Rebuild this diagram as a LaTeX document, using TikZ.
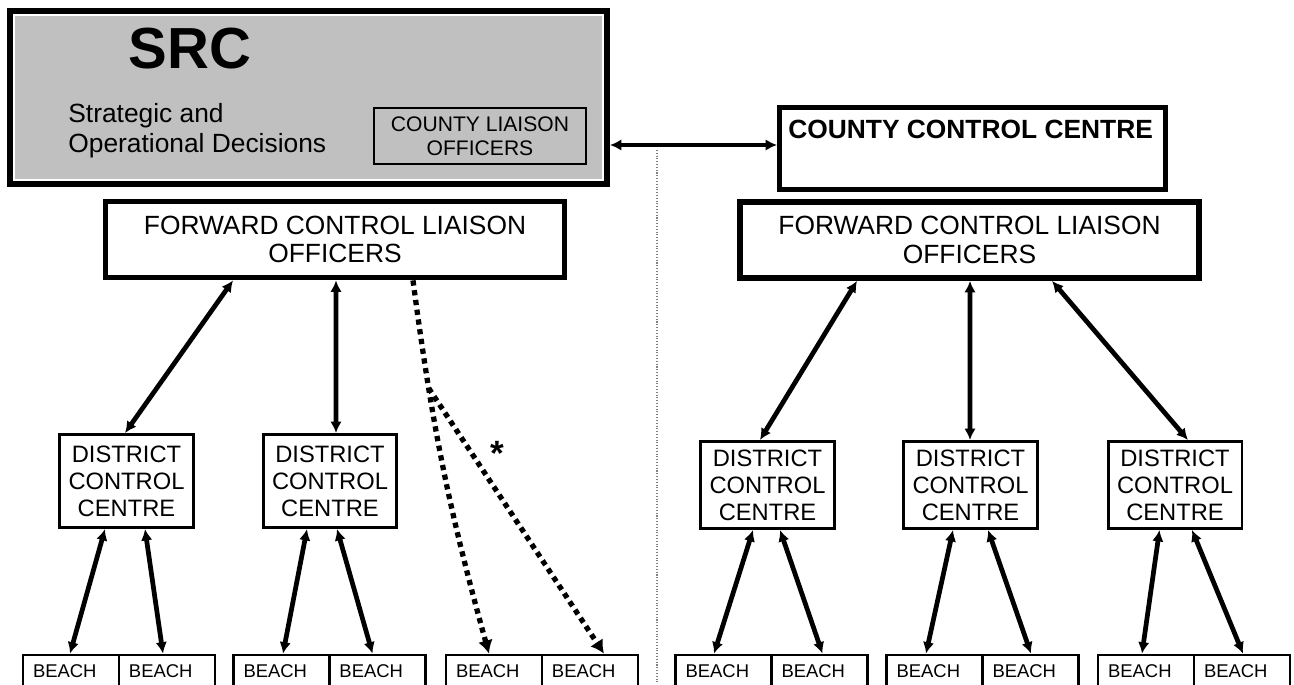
\documentclass[tikz,border=0pt]{standalone}
\usepackage{fontspec}
\setmainfont{Liberation Sans}
\usetikzlibrary{arrows,arrows.meta,calc,positioning}
\definecolor{srcgrey}{RGB}{192,192,192}
\tikzset{
    bigblock/.style = {draw, rectangle, line width=3.3pt, inner sep=0pt,
        minimum height=1.52cm, minimum width=9.18cm, align=center,
        font=\fontsize{15}{16.4}\selectfont},
    district/.style = {draw, rectangle, line width=1.7pt, inner sep=0pt,
        minimum width=2.68cm, align=center,
        font=\fontsize{13.5}{15.3}\selectfont},
    beach/.style = {draw, rectangle, line width=1.6pt, inner xsep=0.2cm,
        text width=1.52cm, minimum height=0.88cm, text height=0pt,
        text depth=0pt, align=left, font=\fontsize{10.5}{12}\selectfont},
    link/.style = {draw, line width=2.7pt, <->},
    dotlink/.style = {draw, line width=3pt, dash pattern=on 3pt off 2.6pt,
        -{Latex[length=7.5pt,width=8.5pt]}}
}

\begin{document}
\begin{tikzpicture}[x=0.02cm, y=-0.02cm, >={Latex[length=6.5pt,width=6.5pt]}]
        \useasboundingbox (0,0) rectangle (1294,684);
        \clip (0,0) rectangle (1294,684);
        % strategic centre
        \node [draw, line width=3.4pt, fill=srcgrey, inner sep=0pt, minimum width=11.94cm, minimum height=3.46cm] (src) at (308.5,97.5) {};
        \draw [white, line width=1.1pt] ([shift={(0.14cm,-0.14cm)}]src.north west) rectangle ([shift={(-0.14cm,0.14cm)}]src.south east);
        \node [anchor=base, inner sep=0pt, font=\bfseries\fontsize{33}{33}\selectfont] (srctitle) at (190,68) {SRC};
        \node [anchor=west, align=left, inner sep=0pt, font=\fontsize{15}{17}\selectfont] (srctask) at (68,131) {Strategic and\\Operational Decisions};
        \node [draw, line width=1.1pt, fill=srcgrey, inner sep=0pt, minimum width=4.24cm, minimum height=1.12cm, align=center, font=\fontsize{12}{13.6}\selectfont] (clo) at (480,136) {COUNTY LIAISON\\OFFICERS};
        % county side
        \node [draw, line width=2.8pt, minimum width=7.72cm, minimum height=1.64cm] (ccc) at (972.5,148.5) {};
        \node [anchor=base west, inner sep=0pt, font=\bfseries\fontsize{15}{16.4}\selectfont] (ccctext) at (788,138) {COUNTY CONTROL CENTRE};
        \coordinate (linky) at (690,145);
        \draw [link] (src.east |- linky) -- (ccc.west |- linky);
        \coordinate (septop) at (657,150);
        \coordinate (sepbot) at (657,684);
        \draw [gray, line width=0.6pt, densely dotted] (septop) -- (sepbot);
        % forward control
        \node [bigblock] (fclL) at (335,239.5) {FORWARD CONTROL LIAISON\\OFFICERS};
        \node [bigblock] (fclR) at (969.5,240) {FORWARD CONTROL LIAISON\\OFFICERS};
        % districts
        \node [district, minimum height=1.86cm] (dcc1) at (126.5,481) {DISTRICT\\CONTROL\\CENTRE};
        \node [district, minimum height=1.86cm] (dcc2) at (330,481) {DISTRICT\\CONTROL\\CENTRE};
        \node [district, minimum height=1.74cm] (dcc3) at (767.5,485) {DISTRICT\\CONTROL\\CENTRE};
        \node [district, minimum height=1.74cm] (dcc4) at (970.5,485) {DISTRICT\\CONTROL\\CENTRE};
        \node [district, minimum height=1.74cm] (dcc5) at (1175,485) {DISTRICT\\CONTROL\\CENTRE};
        \draw [link] ([xshift=-2.04cm]fclL.south) -- ([xshift=-0.03cm]dcc1.north);
        \draw [link] ([xshift=0.02cm]fclL.south) -- ([xshift=0.12cm]dcc2.north);
        \draw [link] ([xshift=-2.25cm]fclR.south) -- ([xshift=-0.15cm]dcc3.north);
        \draw [link] ([xshift=0.01cm]fclR.south) -- ([xshift=-0.01cm]dcc4.north);
        \draw [link] ([xshift=1.65cm]fclR.south) -- ([xshift=0.26cm]dcc5.north);
        % beaches
        \node [beach] (b1a) at (71,677) {BEACH};
        \node [beach, right of=b1a, node distance=1.92cm] (b1b) {BEACH};
        \node [beach] (b2a) at (281.5,677) {BEACH};
        \node [beach, right of=b2a, node distance=1.92cm] (b2b) {BEACH};
        \node [beach] (b3a) at (494,677) {BEACH};
        \node [beach, right of=b3a, node distance=1.92cm] (b3b) {BEACH};
        \node [beach] (b4a) at (723.5,677) {BEACH};
        \node [beach, right of=b4a, node distance=1.92cm] (b4b) {BEACH};
        \node [beach] (b5a) at (934.5,677) {BEACH};
        \node [beach, right of=b5a, node distance=1.92cm] (b5b) {BEACH};
        \node [beach] (b6a) at (1146,677) {BEACH};
        \node [beach, right of=b6a, node distance=1.92cm] (b6b) {BEACH};
        \draw [link] ([xshift=-0.43cm]dcc1.south) -- ([xshift=-0.02cm]b1a.north);
        \draw [link] ([xshift=0.37cm]dcc1.south) -- ([xshift=-0.08cm]b1b.north);
        \draw [link] ([xshift=-0.46cm]dcc2.south) -- ([xshift=0.03cm]b2a.north);
        \draw [link] ([xshift=0.14cm]dcc2.south) -- ([xshift=-0.10cm]b2b.north);
        \draw [link] ([xshift=-0.29cm]dcc3.south) -- ([xshift=-0.19cm]b4a.north);
        \draw [link] ([xshift=0.25cm]dcc3.south) -- ([xshift=0.06cm]b4b.north);
        \draw [link] ([xshift=-0.35cm]dcc4.south) -- ([xshift=-0.17cm]b5a.north);
        \draw [link] ([xshift=0.35cm]dcc4.south) -- ([xshift=0.01cm]b5b.north);
        \draw [link] ([xshift=-0.31cm]dcc5.south) -- ([xshift=-0.08cm]b6a.north);
        \draw [link] ([xshift=0.34cm]dcc5.south) -- ([xshift=0.02cm]b6b.north);
        % direct links to the beaches
        \draw [dotlink] ([xshift=1.56cm]fclL.south) to[bend right=4] coordinate[pos=0.27] (fork) ([xshift=-0.1cm]b3a.north);
        \draw [dotlink] (fork) -- ([xshift=0.28cm]b3b.north);
        \node [anchor=base, inner sep=0pt, font=\bfseries\fontsize{20}{20}\selectfont] (note) at (497,465) {*};
\end{tikzpicture}
\end{document}
